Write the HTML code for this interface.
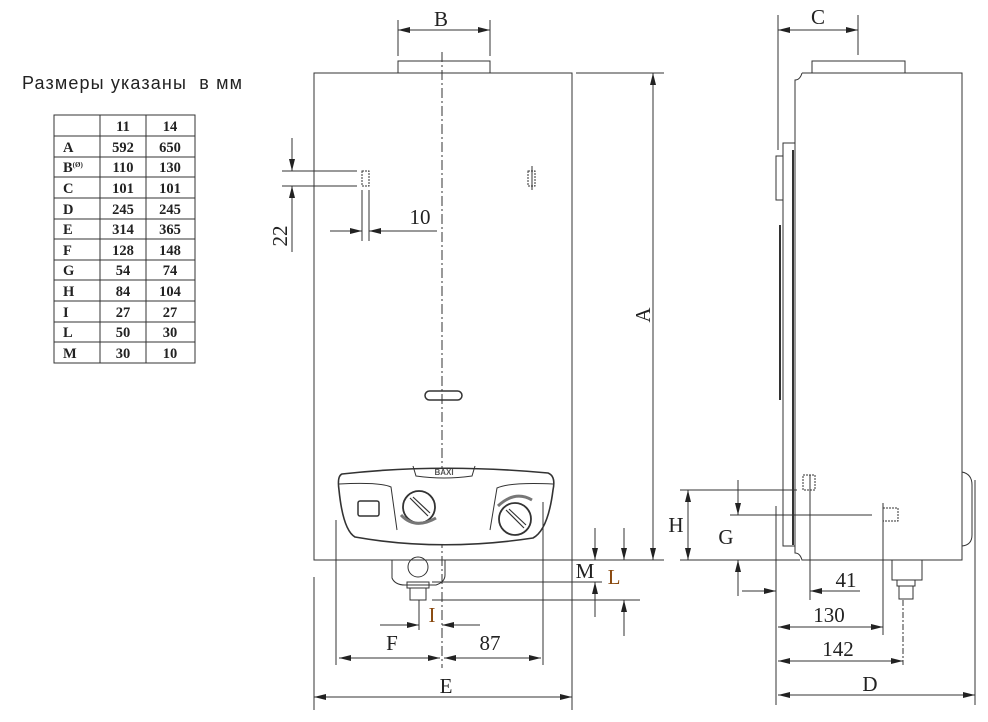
<!DOCTYPE html>
<html><head><meta charset="utf-8"><style>
html,body{margin:0;padding:0;background:#fff;}
svg{display:block;}
.t{font-family:"Liberation Serif",serif;fill:#222;}
.s{font-family:"Liberation Sans",sans-serif;}
</style></head><body>
<svg width="988" height="722" viewBox="0 0 988 722" xmlns="http://www.w3.org/2000/svg">
<defs>
<marker id="a" viewBox="0 0 12 6" refX="12" refY="3" markerWidth="12" markerHeight="6" orient="auto-start-reverse" markerUnits="userSpaceOnUse"><path d="M0,0 L12,3 L0,6 z" fill="#222"/></marker>
</defs>
<text x="22" y="89" class="s" font-size="18" fill="#222" textLength="220" lengthAdjust="spacing">Размеры указаны&#160; в мм</text>
<!-- table -->
<g stroke="#333" stroke-width="1" fill="none">
<rect x="54" y="115" width="141" height="248"/>
<line x1="100" y1="115" x2="100" y2="363"/><line x1="146" y1="115" x2="146" y2="363"/>
<line x1="54" y1="136" x2="195" y2="136"/><line x1="54" y1="157" x2="195" y2="157"/><line x1="54" y1="177" x2="195" y2="177"/><line x1="54" y1="198" x2="195" y2="198"/><line x1="54" y1="219" x2="195" y2="219"/><line x1="54" y1="239" x2="195" y2="239"/><line x1="54" y1="260" x2="195" y2="260"/><line x1="54" y1="280" x2="195" y2="280"/><line x1="54" y1="301" x2="195" y2="301"/><line x1="54" y1="322" x2="195" y2="322"/><line x1="54" y1="342" x2="195" y2="342"/>
</g>
<g class="t" font-size="14.5" font-weight="bold" fill="#222">
<text x="123" y="131" text-anchor="middle">11</text><text x="170" y="131" text-anchor="middle">14</text>
<text x="63" y="152">A</text><text x="123" y="152" text-anchor="middle">592</text><text x="170" y="152" text-anchor="middle">650</text>
<text x="63" y="172">B<tspan font-size="7" dy="-5">(Ø)</tspan></text><text x="123" y="172" text-anchor="middle">110</text><text x="170" y="172" text-anchor="middle">130</text>
<text x="63" y="193">C</text><text x="123" y="193" text-anchor="middle">101</text><text x="170" y="193" text-anchor="middle">101</text>
<text x="63" y="214">D</text><text x="123" y="214" text-anchor="middle">245</text><text x="170" y="214" text-anchor="middle">245</text>
<text x="63" y="234">E</text><text x="123" y="234" text-anchor="middle">314</text><text x="170" y="234" text-anchor="middle">365</text>
<text x="63" y="255">F</text><text x="123" y="255" text-anchor="middle">128</text><text x="170" y="255" text-anchor="middle">148</text>
<text x="63" y="275">G</text><text x="123" y="275" text-anchor="middle">54</text><text x="170" y="275" text-anchor="middle">74</text>
<text x="63" y="296">H</text><text x="123" y="296" text-anchor="middle">84</text><text x="170" y="296" text-anchor="middle">104</text>
<text x="63" y="317">I</text><text x="123" y="317" text-anchor="middle">27</text><text x="170" y="317" text-anchor="middle">27</text>
<text x="63" y="337">L</text><text x="123" y="337" text-anchor="middle">50</text><text x="170" y="337" text-anchor="middle">30</text>
<text x="63" y="358">M</text><text x="123" y="358" text-anchor="middle">30</text><text x="170" y="358" text-anchor="middle">10</text>
</g>

<!-- FRONT VIEW -->
<g stroke="#333" stroke-width="1" fill="none">
<rect x="314" y="73" width="258" height="487"/>
<rect x="398" y="61" width="92" height="12"/>
<line x1="442" y1="52" x2="442" y2="668" stroke-dasharray="10,3,2,3"/>
<line x1="398" y1="20" x2="398" y2="56"/><line x1="490" y1="20" x2="490" y2="56"/>
<line x1="398" y1="30" x2="490" y2="30" marker-start="url(#a)" marker-end="url(#a)"/>
<line x1="576" y1="73" x2="664" y2="73"/><line x1="576" y1="560" x2="664" y2="560"/>
<line x1="653" y1="73" x2="653" y2="560" marker-start="url(#a)" marker-end="url(#a)"/>
<rect x="362" y="171" width="7" height="15" stroke-dasharray="2,1"/>
<rect x="528" y="171" width="7" height="15" stroke-dasharray="2,1"/>
<line x1="532" y1="166" x2="532" y2="190"/>
<line x1="282" y1="171" x2="357" y2="171"/><line x1="282" y1="186" x2="357" y2="186"/>
<line x1="292" y1="138" x2="292" y2="171" marker-end="url(#a)"/><line x1="292" y1="252" x2="292" y2="186" marker-end="url(#a)"/>
<line x1="362" y1="190" x2="362" y2="241"/><line x1="369" y1="190" x2="369" y2="241"/>
<line x1="330" y1="231" x2="362" y2="231" marker-end="url(#a)"/><line x1="437" y1="231" x2="369" y2="231" marker-end="url(#a)"/>
<rect x="425" y="391" width="37" height="9" rx="4.5" stroke-width="1.5"/>
<path d="M342,474 Q337,476 339,490 Q343,530 355,537 Q440,552 533,538 Q548,530 553,490 Q556,476 548,473 Q440,463 342,474 Z" fill="#fff" stroke-width="1.6"/>
<path d="M413,466 L416,476 Q444,480 472,476 L475,466" />
<path d="M339,484 Q380,482 391,487 L397,530"/>
<path d="M553,484 Q510,482 497,488 L490,530"/>
<rect x="358" y="501" width="21" height="15" rx="2" stroke-width="1.5"/>
<circle cx="419" cy="507" r="16" stroke-width="1.8"/>
<path d="M410,498 L428,516 M413,497 L430,513" stroke-width="1.2"/>
<path d="M401,515 Q415,530 436,518" stroke="#777" stroke-width="3"/>
<circle cx="515" cy="519" r="16" stroke-width="1.8"/>
<path d="M506,510 L524,528 M509,509 L526,525" stroke-width="1.2"/>
<path d="M498,506 Q515,490 532,500" stroke="#777" stroke-width="3"/>
<path d="M392,560 L392,578 Q395,585 405,585 L436,585 Q445,582 445,575 L445,560"/>
<circle cx="418" cy="567" r="10"/>
<rect x="407" y="582" width="22" height="6"/>
<rect x="410" y="588" width="16" height="12"/>
<line x1="336" y1="520" x2="336" y2="665"/><line x1="543" y1="502" x2="543" y2="665"/>
<line x1="339" y1="658" x2="440" y2="658" marker-start="url(#a)" marker-end="url(#a)"/>
<line x1="444" y1="658" x2="541" y2="658" marker-start="url(#a)" marker-end="url(#a)"/>
<line x1="419" y1="600" x2="419" y2="630"/>
<line x1="380" y1="625" x2="419" y2="625" marker-end="url(#a)"/><line x1="480" y1="625" x2="442" y2="625" marker-end="url(#a)"/>
<line x1="314" y1="577" x2="314" y2="710"/><line x1="572" y1="560" x2="572" y2="710"/>
<line x1="314" y1="697" x2="572" y2="697" marker-start="url(#a)" marker-end="url(#a)"/>
<line x1="572" y1="560" x2="640" y2="560"/>
<line x1="432" y1="582" x2="602" y2="582"/><line x1="432" y1="600" x2="640" y2="600"/>
<line x1="595" y1="528" x2="595" y2="560" marker-end="url(#a)"/><line x1="595" y1="617" x2="595" y2="582" marker-end="url(#a)"/>
<line x1="624" y1="528" x2="624" y2="560" marker-end="url(#a)"/><line x1="624" y1="636" x2="624" y2="600" marker-end="url(#a)"/>
</g>
<g class="t" font-size="21">
<text x="441" y="26" text-anchor="middle">B</text>
<text transform="translate(650,315) rotate(-90)" text-anchor="middle">A</text>
<text transform="translate(287,236) rotate(-90)" text-anchor="middle">22</text>
<text x="420" y="224" text-anchor="middle">10</text>
<text x="392" y="650" text-anchor="middle">F</text>
<text x="490" y="650" text-anchor="middle">87</text>
<text x="432" y="622" text-anchor="middle" fill="#8a4a10">I</text>
<text x="446" y="693" text-anchor="middle">E</text>
<text x="585" y="578" text-anchor="middle">M</text>
<text x="614" y="584" text-anchor="middle" fill="#8a4a10">L</text>
</g>
<text x="444" y="475" text-anchor="middle" class="s" font-size="8" font-weight="bold" fill="#555">BAXI</text>

<!-- SIDE VIEW -->
<g stroke="#333" stroke-width="1" fill="none">
<line x1="778" y1="15" x2="778" y2="150"/><line x1="858" y1="15" x2="858" y2="55"/>
<line x1="778" y1="30" x2="858" y2="30" marker-start="url(#a)" marker-end="url(#a)"/>
<rect x="812" y="61" width="93" height="12"/>
<path d="M802,73 L962,73 L962,560 L802,560 Q800,553 795,553 L795,80 Q800,80 802,73"/>
<rect x="783" y="143" width="12" height="403"/>
<line x1="793" y1="150" x2="793" y2="545" stroke-width="2"/>
<path d="M783,156 L776,156 L776,200 L783,200"/>
<line x1="780" y1="225" x2="780" y2="400" stroke-width="2"/>
<path d="M962,472 Q972,474 972,485 L972,535 Q972,545 962,546"/>
<rect x="892" y="560" width="30" height="20"/><rect x="897" y="580" width="18" height="6"/><rect x="899" y="586" width="14" height="13"/>
<line x1="680" y1="490" x2="797" y2="490"/><line x1="680" y1="560" x2="800" y2="560"/>
<line x1="688" y1="490" x2="688" y2="560" marker-start="url(#a)" marker-end="url(#a)"/>
<line x1="730" y1="515" x2="872" y2="515"/>
<line x1="738" y1="480" x2="738" y2="515" marker-end="url(#a)"/><line x1="738" y1="596" x2="738" y2="560" marker-end="url(#a)"/>
<rect x="803" y="475" width="12" height="15" stroke-dasharray="2,1"/>
<line x1="810" y1="475" x2="810" y2="600"/>
<rect x="883" y="508" width="15" height="13" stroke-dasharray="2,1"/>
<line x1="883" y1="503" x2="883" y2="635"/>
<line x1="903" y1="600" x2="903" y2="665" stroke-dasharray="6,2,2,2"/>
<line x1="776" y1="506" x2="776" y2="705"/><line x1="975" y1="480" x2="975" y2="705"/>
<line x1="742" y1="591" x2="776" y2="591" marker-end="url(#a)"/><line x1="860" y1="591" x2="810" y2="591" marker-end="url(#a)"/>
<line x1="778" y1="627" x2="883" y2="627" marker-start="url(#a)" marker-end="url(#a)"/>
<line x1="778" y1="661" x2="903" y2="661" marker-start="url(#a)" marker-end="url(#a)"/>
<line x1="778" y1="695" x2="975" y2="695" marker-start="url(#a)" marker-end="url(#a)"/>
</g>
<g class="t" font-size="21">
<text x="818" y="24" text-anchor="middle">C</text>
<text x="676" y="532" text-anchor="middle">H</text>
<text x="726" y="544" text-anchor="middle">G</text>
<text x="846" y="587" text-anchor="middle">41</text>
<text x="829" y="622" text-anchor="middle">130</text>
<text x="838" y="656" text-anchor="middle">142</text>
<text x="870" y="691" text-anchor="middle">D</text>
</g>
</svg>
</body></html>
